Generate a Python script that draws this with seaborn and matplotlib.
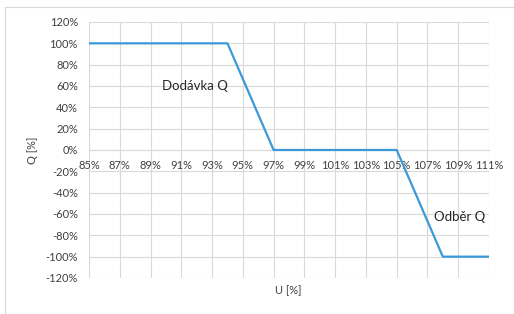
import matplotlib
matplotlib.use('Agg')
from matplotlib import pyplot as plt
from matplotlib.lines import Line2D
from matplotlib.ticker import MultipleLocator, FuncFormatter
import pandas as pd
import seaborn as sns

# Q(U) characteristic, values
uPct = [85, 94, 97, 105, 108, 111]
qPct = [100, 100, 0, 0, -100, -100]
xTicks = list(range(85, 112, 2))
yTicks = list(range(-120, 121, 20))

sns.set_style('white')
plt.rcParams['font.family'] = ['Lato', 'DejaVu Sans']

df = pd.DataFrame({'U': uPct, 'Q': qPct})

W, H = 514, 314
fig = plt.figure(figsize=(W / 100, H / 100), dpi=100)
ax = fig.add_axes([89 / W, (H - 278) / H, 400 / W, 256 / H])

gridCol = '#d9d9d9'
sns.lineplot(data=df, x='U', y='Q', sort=False, color='#3a9ad9', linewidth=1.6, ax=ax, zorder=3)

ax.set_xlim(85, 111)
ax.set_ylim(-120, 120)
ax.set_xticks(xTicks)
ax.set_yticks(yTicks)
ax.xaxis.set_major_formatter(FuncFormatter(lambda v, p: '%d%%' % v))
ax.yaxis.set_major_formatter(FuncFormatter(lambda v, p: '%d%%' % v))
ax.grid(True, color=gridCol, linewidth=0.8)
ax.set_axisbelow(True)

for s in ['top', 'right', 'left']:
    ax.spines[s].set_visible(False)
ax.spines['bottom'].set_position(('data', 0))
ax.spines['bottom'].set_color(gridCol)
ax.spines['bottom'].set_linewidth(0.8)
ax.tick_params(axis='x', length=0, pad=7, labelsize=8, colors='#404040')
ax.tick_params(axis='y', length=0, pad=8, labelsize=8, colors='#404040')
ax.set_xlabel('')
ax.set_ylabel('')

ax.text(91.9, 60, 'Dodávka Q', ha='center', va='center', fontsize=9.5, color='#262626')
ax.text(109.1, -63, 'Odběr Q', ha='center', va='center', fontsize=9.5, color='#262626')

fig.text(33 / W, 1 - 150 / H, 'Q [%]', rotation=90, ha='center', va='center', fontsize=8, color='#404040')
fig.text(288 / W, 1 - 291 / H, 'U [%]', ha='center', va='center', fontsize=8, color='#404040')

# outer chart border
fig.add_artist(Line2D([5 / W, 1], [1 - 7 / H, 1 - 7 / H], transform=fig.transFigure, color=gridCol, lw=0.8))
fig.add_artist(Line2D([5 / W, 5 / W], [0, 1 - 7 / H], transform=fig.transFigure, color=gridCol, lw=0.8))

fig.savefig('out.png', dpi=100)
